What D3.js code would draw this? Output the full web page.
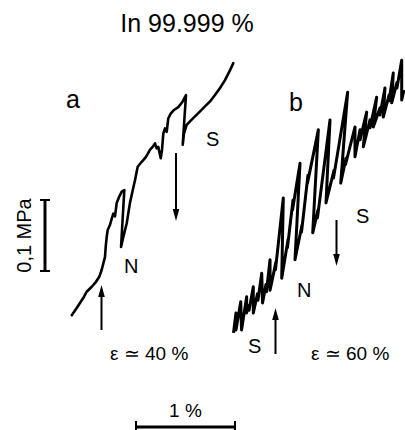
<!DOCTYPE html>
<html>
<head>
<meta charset="utf-8">
<script src="https://cdn.jsdelivr.net/npm/d3@7"></script>
<style>
  html, body { margin: 0; padding: 0; background: #fff; }
  svg { display: block; }
  text { font-family: "Liberation Sans", Arial, sans-serif; fill: #000; }
</style>
</head>
<body>
<svg id="chart" width="405" height="430"></svg>
<script>
// Serrated stress–strain records of In 99.999 %, strain in %, stress in MPa
const curveAStrain = [0.361,0.411,0.444,0.485,0.512,0.563,0.606,0.639,0.664,0.680,0.697,0.704,0.714,0.724,0.747,0.765,0.781,0.798,0.815,0.841,0.866,0.892,0.859,0.882,0.916,0.949,0.977,1.000,1.027,1.068,1.101,1.124,1.152,1.179,1.202,1.219,1.235,1.260,1.273,1.286,1.303,1.320,1.336,1.361,1.394,1.437,1.482,1.515,1.482,1.495,1.522,1.563,1.606,1.657,1.707,1.758,1.808,1.859,1.909,1.960,1.993];
const curveAStress = [0.035,0.045,0.052,0.061,0.068,0.075,0.082,0.089,0.099,0.108,0.117,0.131,0.145,0.155,0.162,0.171,0.178,0.174,0.193,0.202,0.209,0.211,0.131,0.145,0.164,0.193,0.211,0.225,0.244,0.251,0.256,0.261,0.268,0.272,0.277,0.270,0.272,0.256,0.268,0.291,0.298,0.293,0.312,0.319,0.324,0.328,0.336,0.345,0.275,0.291,0.303,0.309,0.315,0.322,0.329,0.336,0.345,0.355,0.366,0.380,0.390];

const curveBStrain = [1.995,2.020,2.020,2.068,2.076,2.128,2.126,2.152,2.152,2.195,2.195,2.237,2.242,2.280,2.288,2.323,2.328,2.364,2.364,2.424,2.419,2.498,2.482,2.545,2.540,2.596,2.591,2.667,2.616,2.687,2.682,2.747,2.742,2.852,2.795,2.848,2.843,2.970,2.929,3.010,3.005,3.148,3.078,3.131,3.126,3.222,3.222,3.273,3.273,3.340,3.306,3.374,3.374,3.441,3.407,3.475,3.475,3.525,3.508,3.566,3.566,3.609,3.593,3.646,3.646,3.694,3.694,3.717];
const curveBStress = [0.010,0.038,0.014,0.054,0.014,0.061,0.038,0.049,0.042,0.075,0.038,0.065,0.056,0.094,0.052,0.078,0.068,0.113,0.070,0.110,0.099,0.200,0.087,0.141,0.130,0.197,0.183,0.249,0.113,0.162,0.152,0.232,0.221,0.296,0.151,0.183,0.172,0.310,0.193,0.239,0.228,0.349,0.221,0.256,0.247,0.300,0.258,0.296,0.282,0.321,0.272,0.310,0.299,0.342,0.300,0.327,0.317,0.355,0.314,0.345,0.337,0.376,0.334,0.363,0.355,0.394,0.338,0.352];

// Scale bars (values)
const strainBar = 1;     // %
const stressBar = 0.1;   // MPa

const svg = d3.select("#chart");

const x = d3.scaleLinear().domain([0, 1]).range([36, 135]);
const y = d3.scaleLinear().domain([0, 0.1]).range([340, 269]);

const line = d3.line()
  .x(d => x(d[0]))
  .y(d => y(d[1]));

const seriesA = d3.zip(curveAStrain, curveAStress);
const seriesB = d3.zip(curveBStrain, curveBStress);

svg.append("path")
  .datum(seriesA)
  .attr("d", line)
  .attr("fill", "none")
  .attr("stroke", "#000")
  .attr("stroke-width", 2.6)
  .attr("stroke-linejoin", "round")
  .attr("stroke-linecap", "round");

svg.append("path")
  .datum(seriesB)
  .attr("d", line)
  .attr("fill", "none")
  .attr("stroke", "#000")
  .attr("stroke-width", 3)
  .attr("stroke-linejoin", "round")
  .attr("stroke-linecap", "butt");

// Title
svg.append("text")
  .attr("x", 187).attr("y", 32)
  .attr("text-anchor", "middle")
  .attr("font-size", 25)
  .text("In 99.999 %");

// Panel letters
svg.append("text").attr("x", 66).attr("y", 108).attr("font-size", 25).text("a");
svg.append("text").attr("x", 289).attr("y", 111).attr("font-size", 25).text("b");

// Regime labels
const labels = [
  { t: "S", x: 206, y: 146 },
  { t: "N", x: 124, y: 273 },
  { t: "S", x: 356, y: 223 },
  { t: "N", x: 297, y: 297 },
  { t: "S", x: 248, y: 353 }
];
svg.selectAll("text.reg")
  .data(labels)
  .join("text")
  .attr("class", "reg")
  .attr("x", d => d.x).attr("y", d => d.y)
  .attr("font-size", 20)
  .text(d => d.t);

// Strain annotations
svg.append("text").attr("x", 110).attr("y", 360).attr("font-size", 19).text("ε ≃ 40 %");
svg.append("text").attr("x", 311).attr("y", 360).attr("font-size", 19).text("ε ≃ 60 %");

// Arrows
const arrows = [
  { x: 101.5, y1: 330, y2: 285 },
  { x: 176,   y1: 153, y2: 221 },
  { x: 336.5, y1: 220, y2: 266 },
  { x: 275.5, y1: 354, y2: 308 }
];
arrows.forEach(a => {
  const dir = a.y2 > a.y1 ? 1 : -1;
  const head = 12;
  svg.append("line")
    .attr("x1", a.x).attr("x2", a.x)
    .attr("y1", a.y1).attr("y2", a.y2 - dir * head + dir * 1)
    .attr("stroke", "#000").attr("stroke-width", 2);
  svg.append("path")
    .attr("d", `M${a.x},${a.y2} L${a.x - 3.3},${a.y2 - dir * head} L${a.x + 3.3},${a.y2 - dir * head} Z`)
    .attr("fill", "#000");
});

// Strain scale bar
const sx0 = x(1.01), sx1 = x(1.01 + strainBar), sy = 427;
const sb = svg.append("g").attr("stroke", "#000");
sb.append("line").attr("x1", sx0).attr("x2", sx1).attr("y1", sy).attr("y2", sy).attr("stroke-width", 3);
sb.append("line").attr("x1", sx0).attr("x2", sx0).attr("y1", sy - 6).attr("y2", sy + 4).attr("stroke-width", 2);
sb.append("line").attr("x1", sx1).attr("x2", sx1).attr("y1", sy - 6).attr("y2", sy + 4).attr("stroke-width", 2);
svg.append("text").attr("x", (sx0 + sx1) / 2).attr("y", 417)
  .attr("text-anchor", "middle").attr("font-size", 19).text("1 %");

// Stress scale bar
const bx = 45, by0 = 271, by1 = by0 - (y(0) - y(stressBar));
const vb = svg.append("g").attr("stroke", "#000");
vb.append("line").attr("x1", bx).attr("x2", bx).attr("y1", by0).attr("y2", by1).attr("stroke-width", 3);
vb.append("line").attr("x1", bx - 5).attr("x2", bx + 5).attr("y1", by0).attr("y2", by0).attr("stroke-width", 2);
vb.append("line").attr("x1", bx - 5).attr("x2", bx + 5).attr("y1", by1).attr("y2", by1).attr("stroke-width", 2);
svg.append("text")
  .attr("transform", `translate(31,${(by0 + by1) / 2}) rotate(-90)`)
  .attr("text-anchor", "middle").attr("font-size", 20).text("0,1 MPa");
</script>
</body>
</html>
